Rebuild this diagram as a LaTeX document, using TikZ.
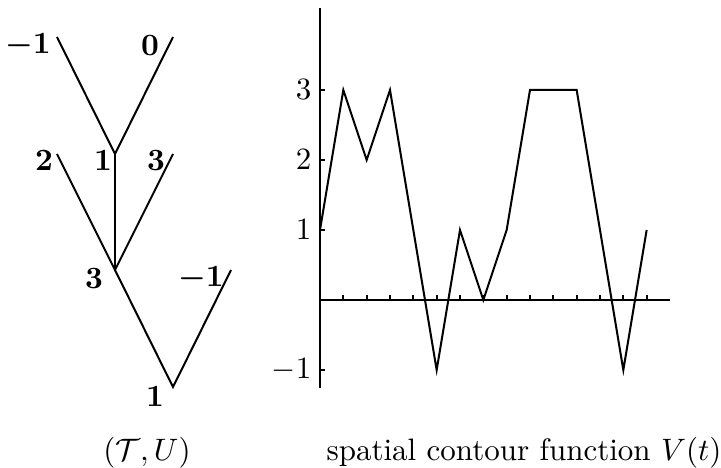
\documentclass[tikz,border=0pt]{standalone}
\begin{document}
\begin{tikzpicture}[x=1pt,y=-1pt,
  treeedge/.style={line width=2pt},
  stemedge/.style={line width=2.6pt},
  axisline/.style={line width=2pt},
  tickline/.style={line width=1.8pt},
  curveline/.style={line width=2pt, line join=miter},
  lab/.style={inner sep=0pt, scale=3.1, font=\normalsize},
  blab/.style={inner sep=0pt, scale=3.1, font=\normalsize\bfseries\boldmath}]
\useasboundingbox (0,0) rectangle (721,468);
% ---------- tree ----------
\coordinate (a) at (57,37);
\coordinate (b) at (173,37);
\coordinate (n1) at (115,154);
\coordinate (l2) at (57,154);
\coordinate (l3) at (173,154);
\coordinate (n3) at (115,270);
\coordinate (lm) at (231,270);
\coordinate (r) at (173,387);
\draw[treeedge] (a) -- (n1) -- (b);
\draw[stemedge] (n1) -- (n3);
\draw[treeedge] (l2) -- (n3) -- (l3);
\draw[treeedge] (n3) -- (r) -- (lm);
\node[blab] (ta) at (28,46) {$-1$};
\node[blab] (tb) at (150,46) {$0$};
\node[blab] (t2) at (44,161) {$2$};
\node[blab] (t1) at (103,161) {$1$};
\node[blab] (t3) at (156,161) {$3$};
\node[blab] (tn3) at (94,279) {$3$};
\node[blab] (tlm) at (201,279) {$-1$};
\node[blab] (tr) at (155,397) {$1$};
% ---------- plot ----------
\coordinate (ytop) at (320,8);
\coordinate (ybot) at (320,388);
\coordinate (xorg) at (320,300);
\coordinate (xend) at (670,300);
\draw[axisline] (ytop) -- (ybot);
\draw[axisline] (xorg) -- (xend);
\foreach \t in {1,...,14} {
  \coordinate (xt\t) at ({320+\t*23.333},300);
  \draw[tickline] (xt\t) -- ++(0,-5);
}
\foreach \v/\y/\nm in {3/90/a,2/160/b,1/230/c,-1/370/d} {
  \coordinate (yt\nm) at (320,\y);
  \draw[tickline] (yt\nm) -- ++(5,0);
  \node[lab,anchor=east] (yl\nm) at (312,\y) {$\v$};
}
\foreach \v [count=\t from 0] in {1,3,2,3,1,-1,1,0,1,3,3,3,1,-1,1} {
  \coordinate (p\t) at ({320+\t*23.333},{300-\v*70});
}
\draw[curveline] (p0) -- (p1) -- (p2) -- (p3) -- (p4) -- (p5) -- (p6) -- (p7)
  -- (p8) -- (p9) -- (p10) -- (p11) -- (p12) -- (p13) -- (p14);
% ---------- captions ----------
\node[lab,anchor=base] (cap1) at (147,460) {$(\mathcal{T},U)$};
\node[lab,anchor=base west] (cap2) at (326,460) {spatial contour function $V(t)$};
\end{tikzpicture}
\end{document}
